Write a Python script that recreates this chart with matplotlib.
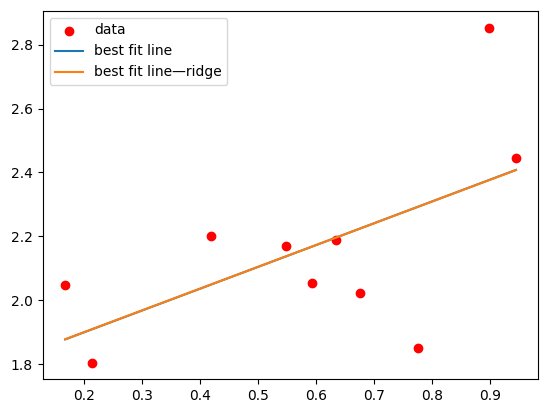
import numpy as np
import matplotlib
matplotlib.use("Agg")
import matplotlib.pyplot as plt

# data
x = np.array([0.168, 0.214, 0.420, 0.549, 0.593, 0.635, 0.676, 0.776, 0.898, 0.945])
y = np.array([2.047, 1.805, 2.202, 2.170, 2.055, 2.189, 2.022, 1.850, 2.853, 2.445])
ridge_alpha = 0.001


def fit_line(x, y, alpha=0.0):
    # least squares on centred data, ridge penalty on the slope only
    xm, ym = x.mean(), y.mean()
    slope = np.sum((x - xm) * (y - ym)) / (np.sum((x - xm) ** 2) + alpha)
    return slope, ym - slope * xm


m, b = fit_line(x, y)
m_r, b_r = fit_line(x, y, ridge_alpha)

fig = plt.figure(figsize=(5.47, 4.13), dpi=100)
ax = fig.add_axes([0.078, 0.0816, 0.9064, 0.8918])

ax.scatter(x, y, color='red', label='data')
ax.plot(x, m * x + b, label='best fit line')
ax.plot(x, m_r * x + b_r, label='best fit line\u2014ridge')
ax.legend(loc='upper left')

fig.savefig('out.png', dpi=100)
